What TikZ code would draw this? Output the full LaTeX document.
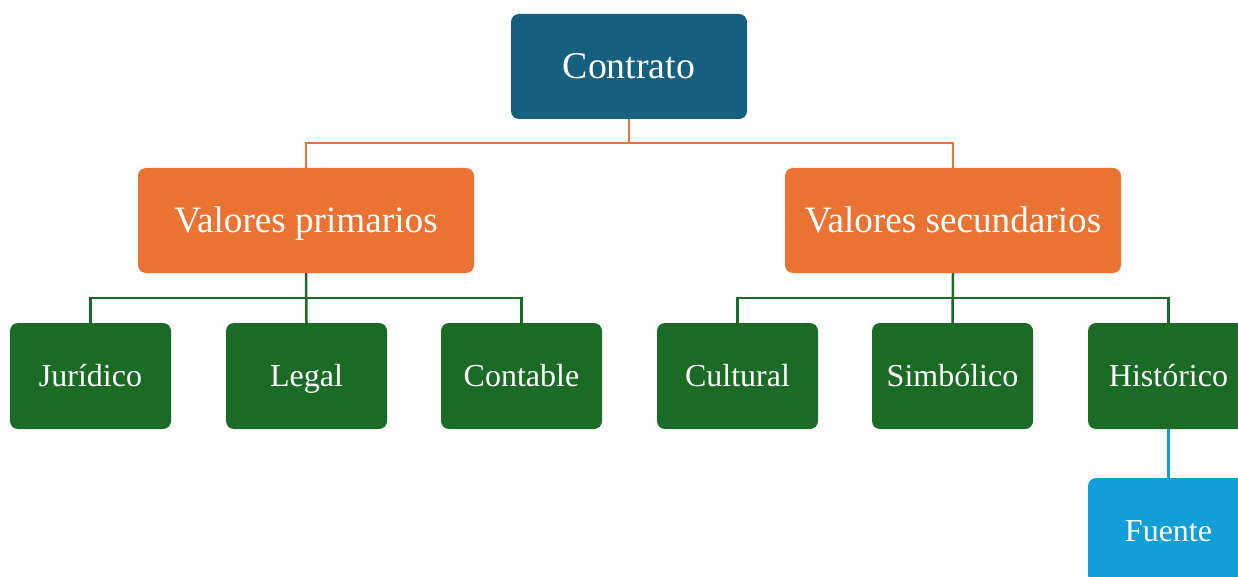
\documentclass[tikz,border=0pt]{standalone}
\usepackage{fontspec}
\setmainfont{Liberation Serif}
\definecolor{cblue}{HTML}{16607F}
\definecolor{corange}{HTML}{EA7333}
\definecolor{cgreen}{HTML}{1B6A25}
\definecolor{clight}{HTML}{129ED6}
\begin{document}
\begin{tikzpicture}[x=1pt,y=-1pt,
  box/.style={rectangle,rounded corners=8pt,inner sep=0pt,text=white,minimum height=105pt,text depth=0pt},
  top/.style={box,fill=cblue,minimum width=236pt,text height=25pt,font=\fontsize{37.8}{44}\selectfont},
  mid/.style={box,fill=corange,minimum width=336pt,text height=24.6pt,font=\fontsize{37.2}{43}\selectfont},
  leaf/.style={box,fill=cgreen,minimum width=161pt,minimum height=106pt,text height=21.2pt,font=\fontsize{32}{38}\selectfont},
  src/.style={box,fill=clight,minimum width=161pt,text height=21.2pt,font=\fontsize{32}{38}\selectfont},
  olink/.style={draw=corange,line width=2.5pt},
  glink/.style={draw=cgreen,line width=2.5pt},
  blink/.style={draw=clight,line width=2.5pt}]
\useasboundingbox (0,0) rectangle (1238,577);
\clip (0,0) rectangle (1238,577);
\node[top] (contrato) at (629,66.5) {Contrato};
\node[mid] (vp) at (306,220.5) {Valores primarios};
\node[mid] (vs) at (953,220.5) {Valores secundarios};
\node[leaf] (jur) at (90.5,376) {Jurídico};
\node[leaf] (leg) at (306.5,376) {Legal};
\node[leaf] (con) at (521.5,376) {Contable};
\node[leaf] (cul) at (737.5,376) {Cultural};
\node[leaf] (sim) at (952.5,376) {Simbólico};
\node[leaf] (his) at (1168.5,376) {Histórico};
\node[src] (fue) at (1168.5,530.5) {Fuente};
\draw[olink] (contrato.south) -- ++(0,24) -| (vp.north);
\draw[olink] (contrato.south) -- ++(0,24) -| (vs.north);
\draw[glink] (vp.south) -- ++(0,25) -| (jur.north);
\draw[glink] (vp.south) -- (leg.north);
\draw[glink] (vp.south) -- ++(0,25) -| (con.north);
\draw[glink] (vs.south) -- ++(0,25) -| (cul.north);
\draw[glink] (vs.south) -- (sim.north);
\draw[glink] (vs.south) -- ++(0,25) -| (his.north);
\draw[blink] (his.south) -- (fue.north);
\end{tikzpicture}
\end{document}
